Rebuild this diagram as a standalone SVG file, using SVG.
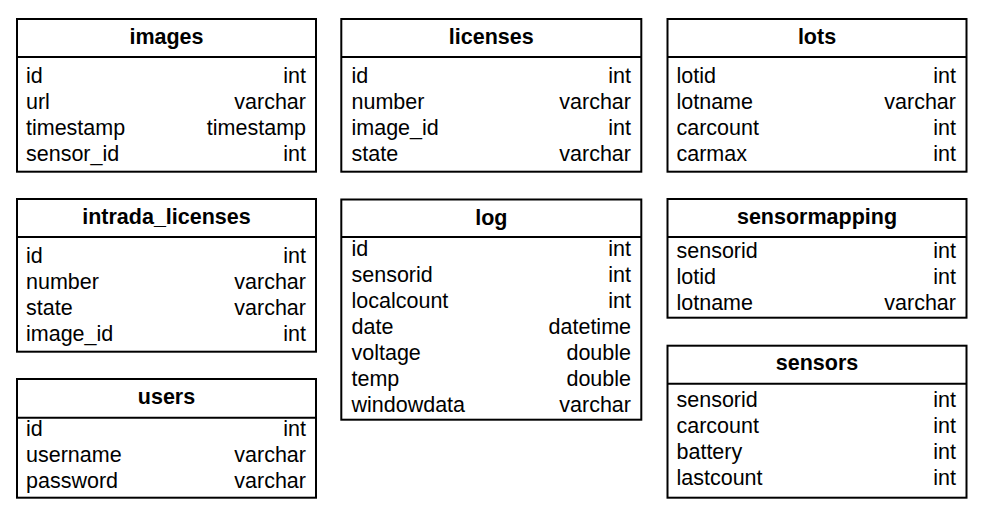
<svg xmlns="http://www.w3.org/2000/svg" width="988" height="518" viewBox="0 0 988 518">
<style>
.box{fill:#fff;stroke:#000;stroke-width:2}
.sep{stroke:#000;stroke-width:2}
text{font-family:"Liberation Sans",Arial,Helvetica,sans-serif;font-size:21.5px;fill:#000}
.h{font-weight:bold;text-anchor:middle}
.t{text-anchor:end}
</style>
<rect width="988" height="518" fill="#fff"/>
<g id="images">
<rect class="box" x="17" y="19" width="299" height="152.7"/>
<line class="sep" x1="17" y1="57" x2="316" y2="57"/>
<text class="h" x="166.5" y="44">images</text>
<text x="26" y="82.5">id</text><text class="t" x="306" y="82.5">int</text>
<text x="26" y="108.5">url</text><text class="t" x="306" y="108.5">varchar</text>
<text x="26" y="134.5">timestamp</text><text class="t" x="306" y="134.5">timestamp</text>
<text x="26" y="160.5">sensor_id</text><text class="t" x="306" y="160.5">int</text>
</g>
<g id="licenses">
<rect class="box" x="341.3" y="19" width="300" height="152.7"/>
<line class="sep" x1="341.3" y1="57" x2="641.3" y2="57"/>
<text class="h" x="491.3" y="44">licenses</text>
<text x="351.5" y="82.5">id</text><text class="t" x="631" y="82.5">int</text>
<text x="351.5" y="108.5">number</text><text class="t" x="631" y="108.5">varchar</text>
<text x="351.5" y="134.5">image_id</text><text class="t" x="631" y="134.5">int</text>
<text x="351.5" y="160.5">state</text><text class="t" x="631" y="160.5">varchar</text>
</g>
<g id="lots">
<rect class="box" x="667.5" y="19" width="299" height="152.7"/>
<line class="sep" x1="667.5" y1="57" x2="966.5" y2="57"/>
<text class="h" x="817" y="44">lots</text>
<text x="676.5" y="82.5">lotid</text><text class="t" x="956" y="82.5">int</text>
<text x="676.5" y="108.5">lotname</text><text class="t" x="956" y="108.5">varchar</text>
<text x="676.5" y="134.5">carcount</text><text class="t" x="956" y="134.5">int</text>
<text x="676.5" y="160.5">carmax</text><text class="t" x="956" y="160.5">int</text>
</g>
<g id="intrada_licenses">
<rect class="box" x="17" y="199" width="299" height="152.7"/>
<line class="sep" x1="17" y1="237" x2="316" y2="237"/>
<text class="h" x="166.5" y="224">intrada_licenses</text>
<text x="26" y="262.5">id</text><text class="t" x="306" y="262.5">int</text>
<text x="26" y="288.5">number</text><text class="t" x="306" y="288.5">varchar</text>
<text x="26" y="314.5">state</text><text class="t" x="306" y="314.5">varchar</text>
<text x="26" y="340.5">image_id</text><text class="t" x="306" y="340.5">int</text>
</g>
<g id="log">
<rect class="box" x="341.3" y="199.5" width="300" height="220.2"/>
<line class="sep" x1="341.3" y1="237" x2="641.3" y2="237"/>
<text class="h" x="491.3" y="224.5">log</text>
<text x="351.5" y="256">id</text><text class="t" x="631" y="256">int</text>
<text x="351.5" y="282">sensorid</text><text class="t" x="631" y="282">int</text>
<text x="351.5" y="308">localcount</text><text class="t" x="631" y="308">int</text>
<text x="351.5" y="334">date</text><text class="t" x="631" y="334">datetime</text>
<text x="351.5" y="360">voltage</text><text class="t" x="631" y="360">double</text>
<text x="351.5" y="386">temp</text><text class="t" x="631" y="386">double</text>
<text x="351.5" y="412">windowdata</text><text class="t" x="631" y="412">varchar</text>
</g>
<g id="sensormapping">
<rect class="box" x="667.5" y="199" width="299" height="118.7"/>
<line class="sep" x1="667.5" y1="237" x2="966.5" y2="237"/>
<text class="h" x="817" y="224">sensormapping</text>
<text x="676.5" y="257.5">sensorid</text><text class="t" x="956" y="257.5">int</text>
<text x="676.5" y="283.5">lotid</text><text class="t" x="956" y="283.5">int</text>
<text x="676.5" y="309.5">lotname</text><text class="t" x="956" y="309.5">varchar</text>
</g>
<g id="sensors">
<rect class="box" x="667.5" y="345.7" width="299" height="152"/>
<line class="sep" x1="667.5" y1="383.7" x2="966.5" y2="383.7"/>
<text class="h" x="817" y="370.3">sensors</text>
<text x="676.5" y="407.3">sensorid</text><text class="t" x="956" y="407.3">int</text>
<text x="676.5" y="433.3">carcount</text><text class="t" x="956" y="433.3">int</text>
<text x="676.5" y="459.3">battery</text><text class="t" x="956" y="459.3">int</text>
<text x="676.5" y="485.3">lastcount</text><text class="t" x="956" y="485.3">int</text>
</g>
<g id="users">
<rect class="box" x="17" y="379" width="299" height="118.7"/>
<line class="sep" x1="17" y1="417.7" x2="316" y2="417.7"/>
<text class="h" x="166.5" y="403.5">users</text>
<text x="26" y="436">id</text><text class="t" x="306" y="436">int</text>
<text x="26" y="462">username</text><text class="t" x="306" y="462">varchar</text>
<text x="26" y="488">password</text><text class="t" x="306" y="488">varchar</text>
</g>
<g id="connectors"></g>
</svg>
